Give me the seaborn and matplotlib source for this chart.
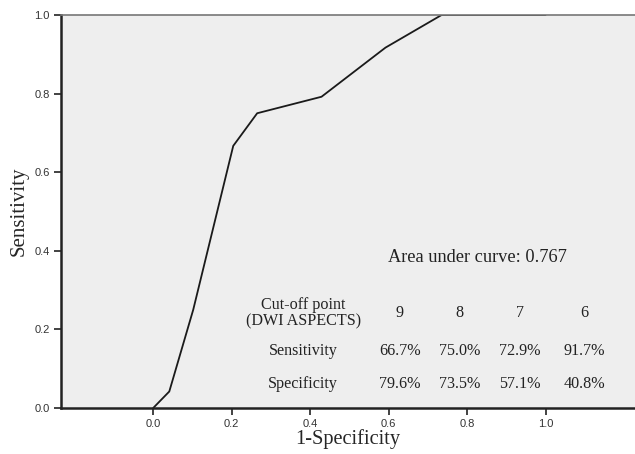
import matplotlib
matplotlib.use("Agg")
import matplotlib.pyplot as plt
import seaborn as sns
import pandas as pd

fpr = [0.0, 0.041, 0.102, 0.204, 0.265, 0.429, 0.592, 0.735, 1.0]
tpr = [0.0, 0.042, 0.250, 0.667, 0.750, 0.792, 0.917, 1.0, 1.0]
auc_text = "Area under curve: 0.767"
cutoffs = ["9", "8", "7", "6"]
sens_vals = ["66.7%", "75.0%", "72.9%", "91.7%"]
spec_vals = ["79.6%", "73.5%", "57.1%", "40.8%"]
xticks = [0.0, 0.2, 0.4, 0.6, 0.8, 1.0]
yticks = [0.0, 0.2, 0.4, 0.6, 0.8, 1.0]

sns.set_style("white")
df = pd.DataFrame({"fpr": fpr, "tpr": tpr})

fig = plt.figure(figsize=(6.35, 4.54), dpi=100)
ax = fig.add_axes([61/635, 46/454, 1 - 61/635, (408-15)/454])
ax.set_facecolor("#eeeeee")
sns.lineplot(data=df, x="fpr", y="tpr", ax=ax, color="#1a1a1a", linewidth=1.3,
             sort=False, estimator=None)
ax.set_xlim(-0.235, 1.228)
ax.set_ylim(0, 1.0)
ax.set_xticks(xticks)
ax.set_yticks(yticks)
ax.set_xticklabels([f"{v:.1f}" for v in xticks])
ax.set_yticklabels([f"{v:.1f}" for v in yticks])
for lab in ax.get_xticklabels() + ax.get_yticklabels():
    lab.set_family("Liberation Sans")
    lab.set_fontsize(8)
    lab.set_color("#333333")
ax.tick_params(axis="both", which="both", direction="out", length=5, width=1.2,
               color="#222222", bottom=True, left=True, pad=3)
for s in ["left", "bottom"]:
    ax.spines[s].set_color("#222222")
    ax.spines[s].set_linewidth(1.8)
ax.spines["right"].set_visible(False)
ax.spines["top"].set_color("#777777")
ax.spines["top"].set_linewidth(1.2)

serif = "Liberation Serif"
ax.set_xlabel("1-Specificity", family=serif, fontsize=14.7, labelpad=0)
ax.set_ylabel("Sensitivity", family=serif, fontsize=15, labelpad=4)

tk = dict(family=serif, fontsize=11.6, color="#222222", ha="center", va="center")
ax.text(0.826, 0.384, auc_text, family=serif, fontsize=13.2, color="#222222",
        ha="center", va="center")
ax.text(0.382, 0.242, "Cut-off point\n(DWI ASPECTS)", linespacing=1.0, **tk)
ax.text(0.382, 0.145, "Sensitivity", **tk)
ax.text(0.382, 0.061, "Specificity", **tk)
colx = [0.629, 0.780, 0.935, 1.098]
for x, c, s, p in zip(colx, cutoffs, sens_vals, spec_vals):
    ax.text(x, 0.242, c, **tk)
    ax.text(x, 0.145, s, **tk)
    ax.text(x, 0.061, p, **tk)

fig.savefig("out.png", dpi=100)
